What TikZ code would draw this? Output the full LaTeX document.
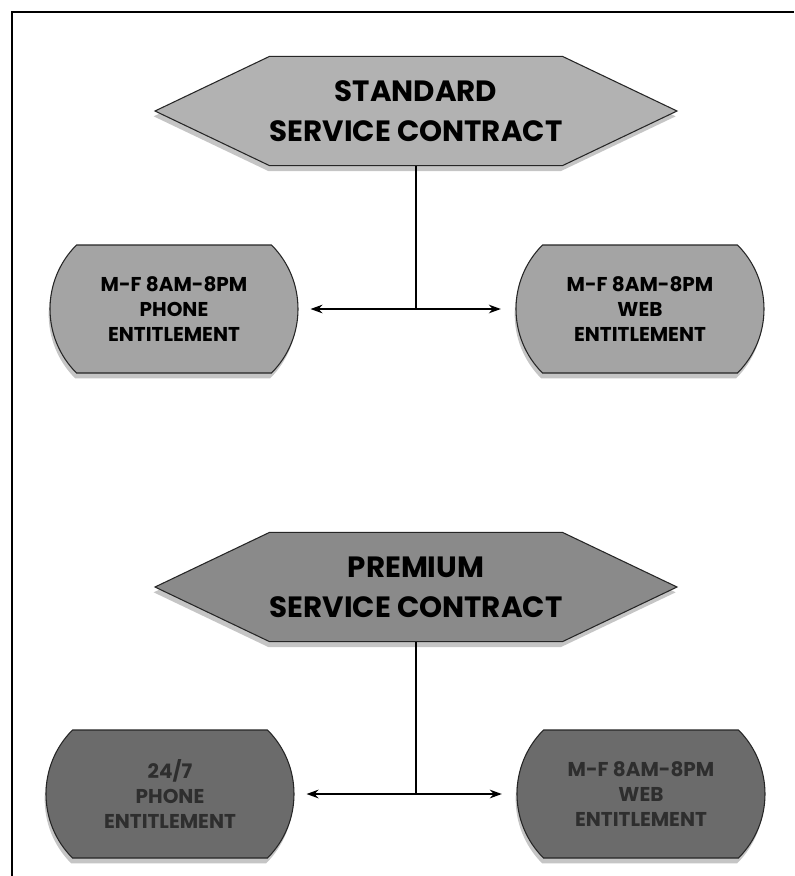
\documentclass[tikz,border=0pt]{standalone}
\usepackage{fontspec}
\setmainfont{Poppins}
\usetikzlibrary{shapes.symbols,shapes.misc,shadows,arrows.meta}
\definecolor{stdhex}{HTML}{B2B2B2}
\definecolor{stdbox}{HTML}{A4A4A4}
\definecolor{premhex}{HTML}{8A8A8A}
\definecolor{prembox}{HTML}{6B6B6B}
\definecolor{premtext}{HTML}{2E2E2E}
\begin{document}
\begin{tikzpicture}[x=0.75pt, y=-0.75pt, >={Stealth[length=9pt,width=6.5pt]},
  contract/.style={signal, signal to=west and east, signal pointer angle=51,
    draw=black!85, line width=0.8pt, minimum width=356pt, minimum height=82pt,
    inner sep=0pt, align=center, font=\bfseries\fontsize{22}{30}\selectfont,
    drop shadow={shadow xshift=-1pt, shadow yshift=-4pt, opacity=0.45}},
  entitle/.style={rounded rectangle, rounded rectangle arc length=90,
    draw=black!85, line width=0.8pt, minimum width=186pt, minimum height=96pt,
    inner sep=0pt, align=center, font=\bfseries\fontsize{15}{19}\selectfont,
    drop shadow={shadow xshift=-1pt, shadow yshift=-4pt, opacity=0.45}},
  premium/.style={entitle, fill=prembox, execute at begin node=\color{premtext}},
  link/.style={line width=0.9pt}]
\useasboundingbox (0,0) rectangle (794,876);
\fill[white] (0,0) rectangle (794,876);
\draw[line width=1pt] (12,876) -- (12,12) -- (794,12);
\begin{scope}
  \node[contract, fill=stdhex] (std) at (416,111) {STANDARD\\SERVICE CONTRACT};
  \node[entitle, fill=stdbox] (stdphone) at (174,309) {M-F 8AM-8PM\\PHONE\\ENTITLEMENT};
  \node[entitle, fill=stdbox] (stdweb) at (640,309) {M-F 8AM-8PM\\WEB\\ENTITLEMENT};
  \coordinate (stdjoin) at (std.south |- stdphone);
  \draw[link] (std.south) -- (stdjoin);
  \draw[link, <->, shorten <=9pt, shorten >=11pt] (stdphone) -- (stdweb);
\end{scope}
\begin{scope}
  \node[contract, fill=premhex] (prem) at (416,587) {PREMIUM\\SERVICE CONTRACT};
  \node[premium] (premphone) at (170,794) {24/7\\PHONE\\ENTITLEMENT};
  \node[premium] (premweb) at (641,794) {M-F 8AM-8PM\\WEB\\ENTITLEMENT};
  \coordinate (premjoin) at (prem.south |- premphone);
  \draw[link] (prem.south) -- (premjoin);
  \draw[link, line width=1.2pt, <->, shorten <=9pt, shorten >=11pt] (premphone) -- (premweb);
\end{scope}
\end{tikzpicture}
\end{document}
